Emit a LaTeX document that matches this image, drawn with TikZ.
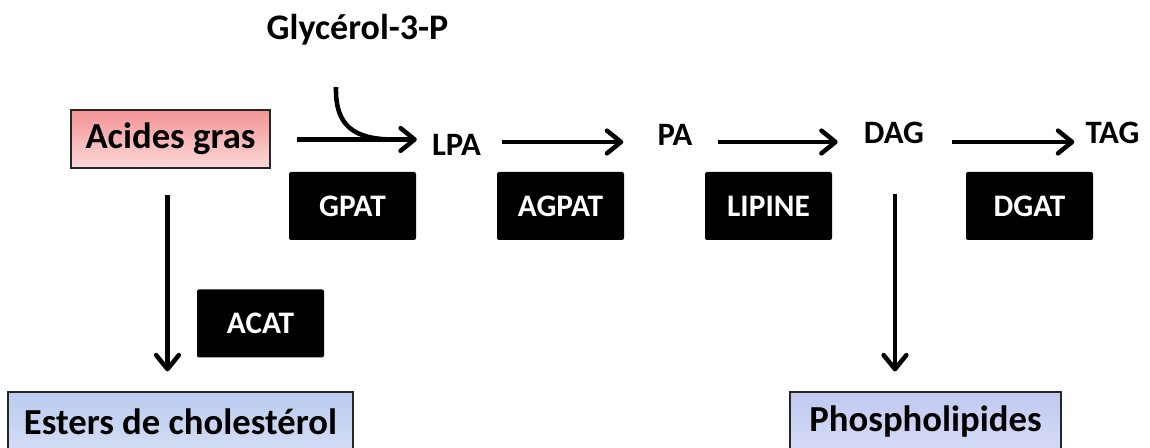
\documentclass[tikz,border=0pt]{standalone}
\usepackage{fontspec}
\setmainfont{Carlito}
\usetikzlibrary{arrows.meta,calc}

\definecolor{pinktop}{RGB}{243,148,148}
\definecolor{pinkbot}{RGB}{252,216,216}
\definecolor{bluetop}{RGB}{186,203,238}
\definecolor{bluebot}{RGB}{212,222,245}
\definecolor{lilactop}{RGB}{192,200,240}
\definecolor{lilacbot}{RGB}{214,220,246}

\tikzset{
  metab/.style={font=\bfseries\fontsize{24.5}{26}\selectfont, inner sep=0pt},
  enzyme/.style={fill=black, rounded corners=1.5pt, text=white, minimum width=95.25pt, minimum height=51pt, inner sep=0pt, font=\bfseries\fontsize{23.5}{25}\selectfont},
  pool/.style={draw=black!85, line width=0.9pt, minimum height=45pt, inner sep=0pt, font=\bfseries\fontsize{27.5}{30}\selectfont},
  flow/.style={line width=3.4pt, -{Straight Barb[length=10.5pt,width=17pt,round]}},
}

\begin{document}
\begin{tikzpicture}[x=0.75pt,y=0.75pt,yscale=-1,xscale=1]
\clip (0,0) rectangle (1150,448);

% metabolites
\node [pool, top color=pinktop, bottom color=pinkbot, minimum width=149.25pt, minimum height=43.5pt] (acides) at (170.5,139) {Acides gras};
\node [metab, font=\bfseries\fontsize{27}{30}\selectfont, anchor=base] (glycerol) at (357.5,40) {Glycérol-3-P};
\node [metab] (lpa) at (456.5,145) {LPA};
\node [metab] (pa) at (675,134.5) {PA};
\node [metab] (dag) at (894,133) {DAG};
\node [metab] (tag) at (1112.5,133) {TAG};

% enzymes
\node [enzyme] (gpat) at (352.5,206) {GPAT};
\node [enzyme] (agpat) at (560.5,206) {AGPAT};
\node [enzyme] (lipine) at (768.5,206) {LIPINE};
\node [enzyme] (dgat) at (1029.5,206) {DGAT};
\node [enzyme] (acat) at (260.5,323.5) {ACAT};

% products
\node [pool, top color=bluetop, bottom color=bluebot, minimum width=258.75pt] (esters) at (180.5,422) {Esters de cholestérol};
\node [pool, top color=lilactop, bottom color=lilacbot, minimum width=203.25pt] (phospho) at (925.5,422) {Phospholipides};

\coordinate (row) at (0,142);
\coordinate (gin) at (336,87);
\coordinate (join) at (394,139.5);

% connectors
\draw [flow] ($(acides.east)+(26,0.5)$) -- ($(lpa.west |- acides.east)+(-15,0.5)$);
\draw [line width=3.4pt] (gin) .. controls (335,126) and (354,139.5) .. (join);
\draw [flow] ($(lpa.east |- row)+(21,0)$) -- ($(pa.west |- row)+(-34,0)$);
\draw [flow] ($(pa.east |- row)+(25,0)$) -- ($(dag.west |- row)+(-26,0)$);
\draw [flow] ($(dag.east |- row)+(28,0)$) -- ($(tag.west |- row)+(-11,0)$);
\draw [flow] ($(acides.south)+(-3,26)$) -- ($(acides.south |- esters.north)+(-3,-20)$);
\draw [flow] ($(dag |- gpat.north)+(1,22)$) -- ($(dag |- phospho.north)+(1,-20)$);

\end{tikzpicture}
\end{document}
